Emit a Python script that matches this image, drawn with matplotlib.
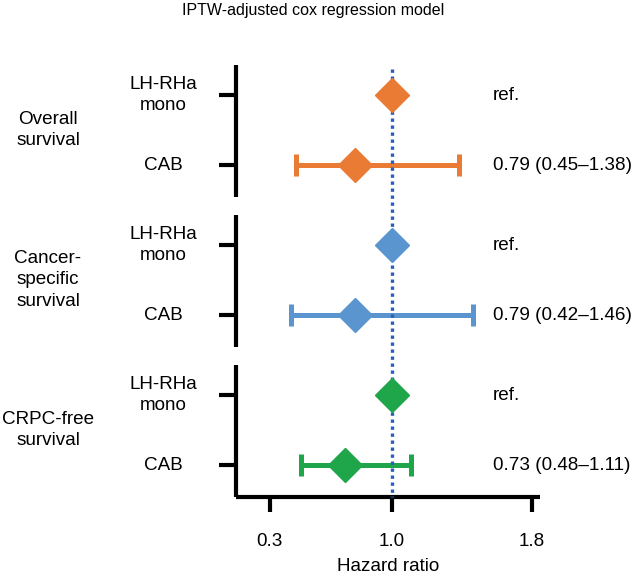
import matplotlib
matplotlib.use("Agg")
import matplotlib.pyplot as plt
import matplotlib.transforms as mtransforms

plt.rcParams['font.family'] = ['Liberation Sans', 'DejaVu Sans']

# ---- data ----
groups = ["Overall\nsurvival", "Cancer-\nspecific\nsurvival", "CRPC-free\nsurvival"]
rows = ["LH-RHa\nmono", "CAB"]
hr_ref = [1.0, 1.0, 1.0]
hr_cab = [0.79, 0.79, 0.73]
ci_low = [0.45, 0.42, 0.48]
ci_high = [1.38, 1.46, 1.11]
right_ref = ["ref.", "ref.", "ref."]
right_cab = ["0.79 (0.45\u20131.38)", "0.79 (0.42\u20131.46)", "0.73 (0.48\u20131.11)"]
colors = ["#E97B35", "#5A95D0", "#1FA64B"]
xticks = [0.3, 1.0, 1.8]
xticklabels = ["0.3", "1.0", "1.8"]

FS = 13.6
LS = 1.38

# ---- layout ----
W, H, DPI = 634, 576, 100
fig = plt.figure(figsize=(W / DPI, H / DPI), dpi=DPI)
ax_l, ax_r, ax_t, ax_b = 236, 540, 65, 497
ax = fig.add_axes([ax_l / W, 1 - ax_b / H, (ax_r - ax_l) / W, (ax_b - ax_t) / H])

px_per_unit = 175.0
x_one_px = 392
x_min = 1.0 - (x_one_px - ax_l) / px_per_unit
x_max = 1.0 + (ax_r - x_one_px) / px_per_unit
ax.set_xlim(x_min, x_max)

gstep = 150 / 70.0
top_off = 30 / 70.0
seg_len = 132 / 70.0
y_top = -top_off
y_bot = 2 * gstep - top_off + seg_len
ax.set_ylim(y_bot, y_top)

ypos = []
for g in range(3):
    ypos += [g * gstep, g * gstep + 1]

# spines
for s in ["top", "right", "left"]:
    ax.spines[s].set_visible(False)
ax.spines["bottom"].set_linewidth(3)
ax.spines["bottom"].set_capstyle("butt")

# segmented left axis
blend = mtransforms.blended_transform_factory(ax.transAxes, ax.transData)
for g in range(3):
    y0 = g * gstep - top_off
    y1 = y0 + seg_len
    ax.plot([0, 0], [y0, y1], transform=blend, color="black", lw=3,
            solid_capstyle="butt", clip_on=False, zorder=5)

ax.set_yticks(ypos)
ax.set_yticklabels([])
ax.tick_params(axis="y", length=12, width=3, color="black")
ax.set_xticks(xticks)
ax.set_xticklabels(xticklabels, fontsize=FS)
ax.tick_params(axis="x", length=11, width=3, pad=15)
ax.set_xlabel("Hazard ratio", fontsize=FS, labelpad=6)

# reference line
ax.plot([1.0, 1.0], [y_top + 0.05, y_bot], color="#2A5DBE", lw=2.4,
        linestyle=(0, (1, 1.1)), dash_capstyle="butt", zorder=3, clip_on=False)

# marks
for g in range(3):
    yr, yc = ypos[2 * g], ypos[2 * g + 1]
    c = colors[g]
    ax.errorbar([hr_cab[g]], [yc],
                xerr=[[hr_cab[g] - ci_low[g]], [ci_high[g] - hr_cab[g]]],
                fmt="none", ecolor=c, elinewidth=3.6, capsize=8, capthick=3.6,
                zorder=2)
    ax.plot([hr_ref[g]], [yr], marker="D", markersize=17.5, color=c,
            linestyle="none", zorder=4)
    ax.plot([hr_cab[g]], [yc], marker="D", markersize=17.5, color=c,
            linestyle="none", zorder=4)

# row labels
lab_x = (163 - ax_l) / (ax_r - ax_l)
for g in range(3):
    for r in range(2):
        ax.text(lab_x, ypos[2 * g + r], rows[r], transform=blend, ha="center",
                va="center", fontsize=FS, linespacing=LS, clip_on=False)
# group labels
grp_x = (48 - ax_l) / (ax_r - ax_l)
for g in range(3):
    ax.text(grp_x, g * gstep + 0.5, groups[g], transform=blend, ha="center",
            va="center", fontsize=FS, linespacing=LS, clip_on=False)
# right labels
rx = (493 - ax_l) / (ax_r - ax_l)
for g in range(3):
    ax.text(rx, ypos[2 * g], right_ref[g], transform=blend, ha="left",
            va="center", fontsize=FS, clip_on=False)
    ax.text(rx, ypos[2 * g + 1], right_cab[g], transform=blend, ha="left",
            va="center", fontsize=FS, clip_on=False)

fig.text(313 / W, 1 - 11 / H, "IPTW-adjusted cox regression model",
         ha="center", va="center", fontsize=11.5)

fig.savefig("out.png", dpi=DPI)
